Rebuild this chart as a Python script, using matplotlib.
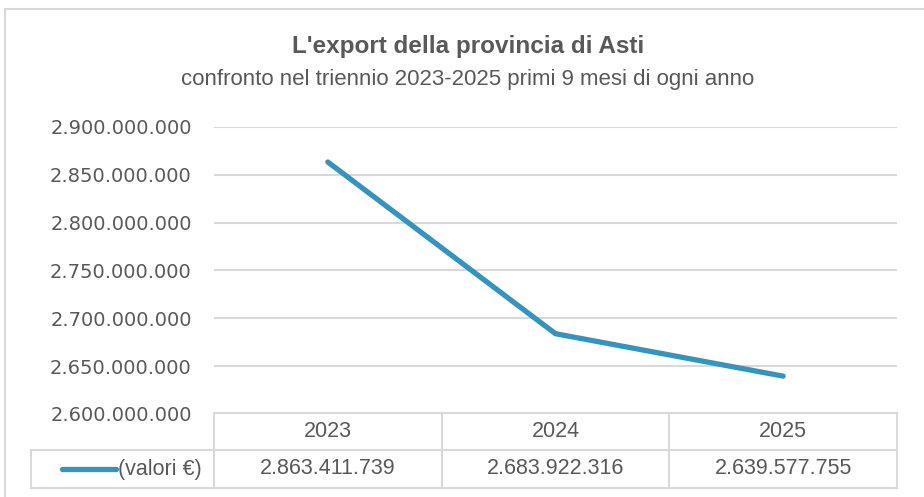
import matplotlib
matplotlib.use('Agg')
import matplotlib.pyplot as plt
from matplotlib.lines import Line2D
from matplotlib.patches import Rectangle
from matplotlib.ticker import FuncFormatter
import matplotlib.transforms as mtransforms

# data
anni = ['2023', '2024', '2025']
valori = [2863411739, 2683922316, 2639577755]
serie = '(valori €)'
titolo = "L'export della provincia di Asti"
sottotitolo = 'confronto nel triennio 2023-2025 primi 9 mesi di ogni anno'

W, H = 924, 497
blu = '#3494BE'
grigio = '#595959'
griglia = '#D9D9D9'
narrow = ['Liberation Sans', 'DejaVu Sans']


def itnum(v):
    return f'{int(v):,}'.replace(',', '.')


def fx(x):
    return x / W


def fy(y):
    return 1 - y / H


fig = plt.figure(figsize=(W / 100, H / 100), dpi=100)
ax = fig.add_axes([fx(214), fy(414), fx(897) - fx(214), fy(127) - fy(414)])

x = list(range(len(anni)))
ax.plot(x, valori, color=blu, lw=3.8, solid_capstyle='round')
ax.set_xlim(-0.5, len(anni) - 0.5)
ax.set_ylim(2.6e9, 2.9e9)
ax.set_yticks([2.6e9 + i * 5e7 for i in range(7)])
ax.yaxis.set_major_formatter(FuncFormatter(lambda v, p: itnum(v)))
ax.tick_params(axis='y', length=0, pad=16, labelsize=14, labelcolor=grigio)
ax.set_xticks([])
ax.grid(axis='y', color=griglia, lw=1.5)
ax.set_axisbelow(True)
for s in ax.spines.values():
    s.set_visible(False)

# outer border
fig.add_artist(Rectangle((fx(5), -0.2), 2, fy(9) + 0.2, fill=False,
                         edgecolor=griglia, lw=1.5, transform=fig.transFigure))

fig.text(fx(468), fy(47), titolo, ha='center', va='center', fontsize=17.5,
         fontweight='bold', color=grigio, family=narrow)
fig.text(fx(468), fy(80), sottotitolo, ha='center', va='center', fontsize=16,
         color=grigio, family=narrow)

# data table
tr = mtransforms.blended_transform_factory(ax.transData, fig.transFigure)
x0 = -0.5
x1 = len(anni) - 0.5
y_top, y_mid, y_bot = fy(413), fy(450), fy(488)
fig.add_artist(Line2D([x0, x1], [y_top, y_top], color=griglia, lw=1.5, transform=tr))
fig.add_artist(Line2D([fx(31), fx(897)], [y_mid, y_mid], color=griglia, lw=1.5))
fig.add_artist(Line2D([fx(31), fx(897)], [y_bot, y_bot], color=griglia, lw=1.5))
for b in [i - 0.5 for i in range(len(anni) + 1)]:
    fig.add_artist(Line2D([b, b], [y_top, y_bot], color=griglia, lw=1.5, transform=tr))
fig.add_artist(Line2D([fx(31), fx(31)], [y_mid, y_bot], color=griglia, lw=1.5))

for i, (a, v) in enumerate(zip(anni, valori)):
    fig.text(i, (y_top + y_mid) / 2, a, transform=tr, ha='center', va='center',
             fontsize=15.5, color=grigio, family=narrow)
    fig.text(i, (y_mid + y_bot) / 2, itnum(v), transform=tr, ha='center',
             va='center', fontsize=15.5, color=grigio, family=narrow)

fig.add_artist(Line2D([fx(62), fx(116)], [(y_mid + y_bot) / 2] * 2, color=blu,
                      lw=3.8, solid_capstyle='round'))
fig.text(fx(118), (y_mid + y_bot) / 2, serie, ha='left', va='center',
         fontsize=15.5, color=grigio, family=narrow)

fig.savefig('out.png', dpi=100)
